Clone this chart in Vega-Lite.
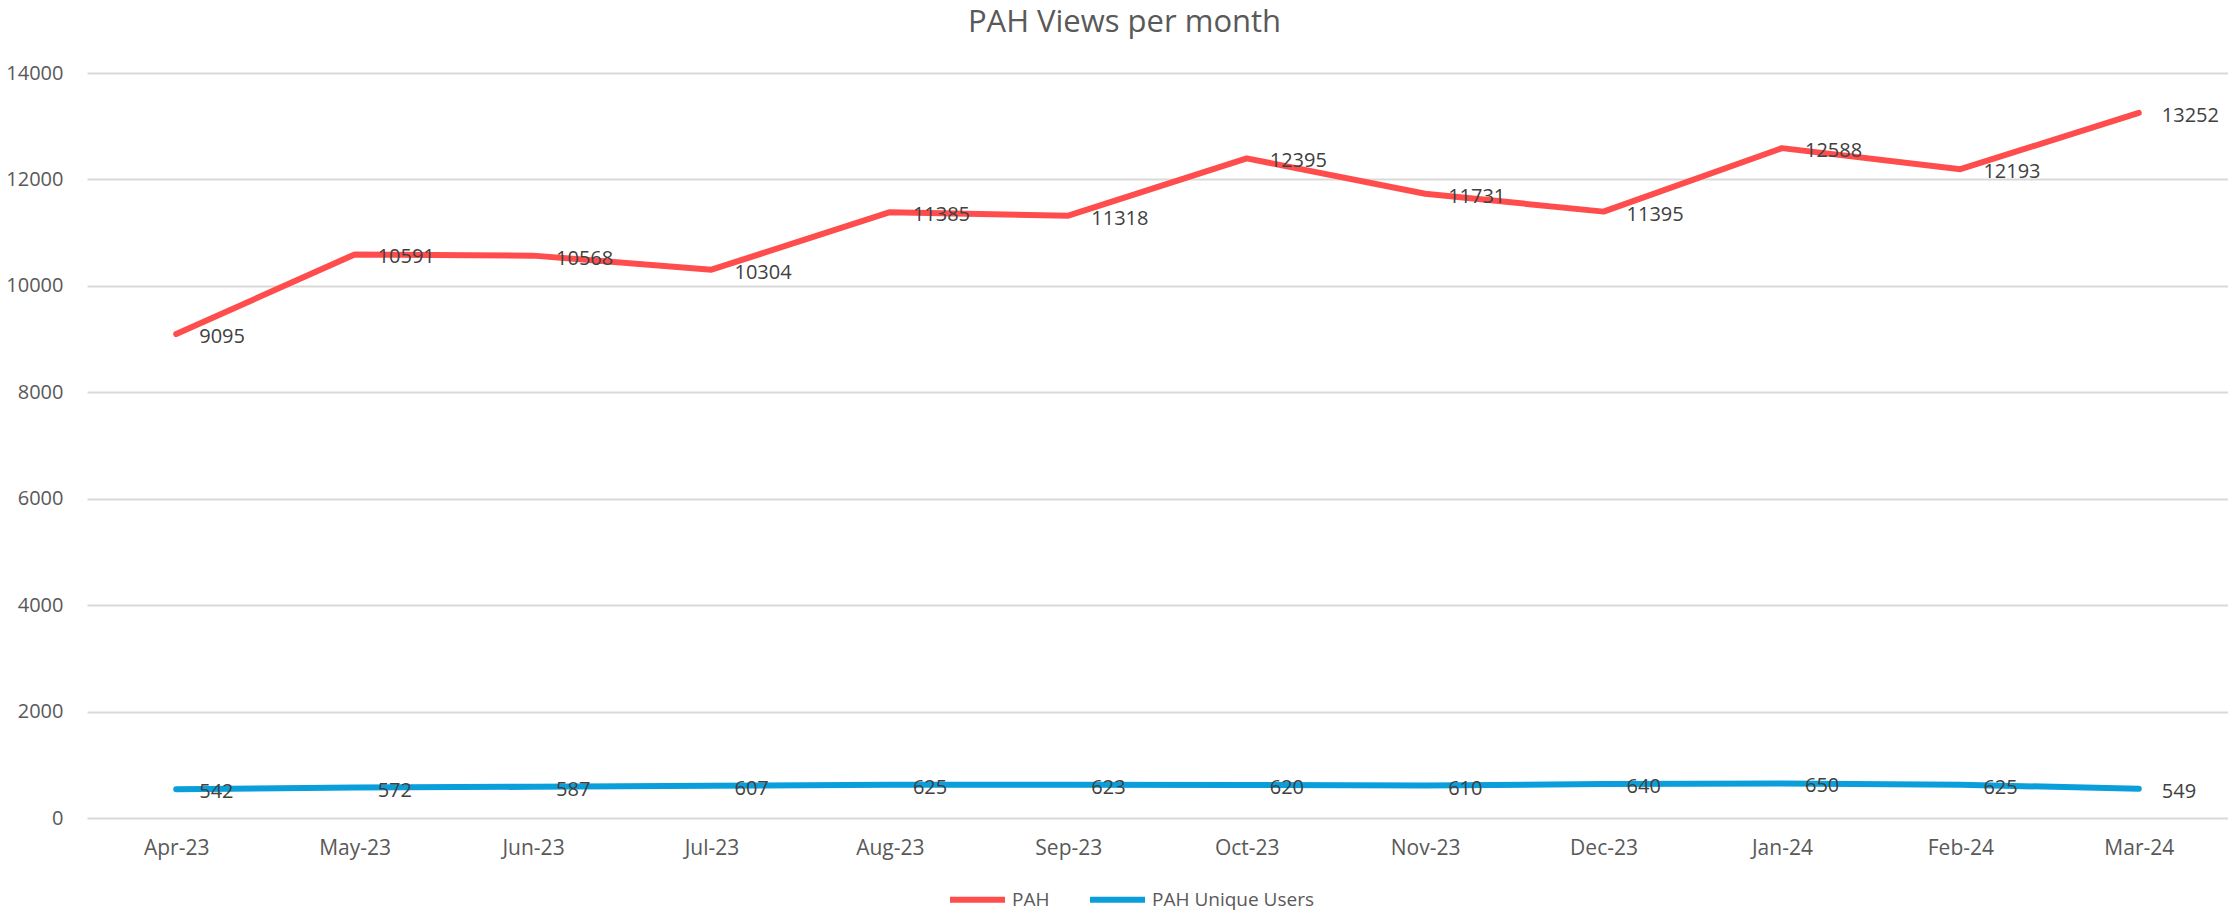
{
  "$schema": "https://vega.github.io/schema/vega-lite/v6.json",
  "autosize": "none",
  "width": 2141,
  "height": 745,
  "padding": {"left": 87, "top": 73, "right": 0, "bottom": 100},
  "background": "white",
  "config": {
    "font": "Open Sans",
    "view": {"stroke": null}
  },
  "title": {
    "text": "PAH Views per month",
    "fontSize": 31,
    "fontWeight": "normal",
    "color": "#595959",
    "font": "Open Sans",
    "anchor": "middle",
    "frame": "group",
    "baseline": "alphabetic",
    "dx": -33,
    "offset": 0
  },
  "data": {
    "values": [
      {"month": "Apr-23", "series": "PAH", "value": 9095},
      {"month": "May-23", "series": "PAH", "value": 10591},
      {"month": "Jun-23", "series": "PAH", "value": 10568},
      {"month": "Jul-23", "series": "PAH", "value": 10304},
      {"month": "Aug-23", "series": "PAH", "value": 11385},
      {"month": "Sep-23", "series": "PAH", "value": 11318},
      {"month": "Oct-23", "series": "PAH", "value": 12395},
      {"month": "Nov-23", "series": "PAH", "value": 11731},
      {"month": "Dec-23", "series": "PAH", "value": 11395},
      {"month": "Jan-24", "series": "PAH", "value": 12588},
      {"month": "Feb-24", "series": "PAH", "value": 12193},
      {"month": "Mar-24", "series": "PAH", "value": 13252},
      {"month": "Apr-23", "series": "PAH Unique Users", "value": 542},
      {"month": "May-23", "series": "PAH Unique Users", "value": 572},
      {"month": "Jun-23", "series": "PAH Unique Users", "value": 587},
      {"month": "Jul-23", "series": "PAH Unique Users", "value": 607},
      {"month": "Aug-23", "series": "PAH Unique Users", "value": 625},
      {"month": "Sep-23", "series": "PAH Unique Users", "value": 623},
      {"month": "Oct-23", "series": "PAH Unique Users", "value": 620},
      {"month": "Nov-23", "series": "PAH Unique Users", "value": 610},
      {"month": "Dec-23", "series": "PAH Unique Users", "value": 640},
      {"month": "Jan-24", "series": "PAH Unique Users", "value": 650},
      {"month": "Feb-24", "series": "PAH Unique Users", "value": 625},
      {"month": "Mar-24", "series": "PAH Unique Users", "value": 549}
    ]
  },
  "encoding": {
    "x": {
      "field": "month",
      "type": "ordinal",
      "sort": null,
      "scale": {"type": "point", "padding": 0.5},
      "axis": {
        "title": null,
        "labelAngle": 0,
        "labelFontSize": 21,
        "labelColor": "#595959",
        "labelPadding": 19,
        "ticks": false,
        "domain": false,
        "grid": false
      }
    },
    "y": {
      "field": "value",
      "type": "quantitative",
      "scale": {"domain": [0, 14000]},
      "axis": {
        "title": null,
        "values": [0, 2000, 4000, 6000, 8000, 10000, 12000, 14000],
        "format": "d",
        "labelFontSize": 20,
        "labelColor": "#595959",
        "labelPadding": 24,
        "ticks": false,
        "domain": false,
        "gridColor": "#D9D9D9",
        "gridWidth": 2
      }
    },
    "color": {
      "field": "series",
      "type": "nominal",
      "scale": {"domain": ["PAH", "PAH Unique Users"], "range": ["#FF4D4D", "#0A9FDA"]},
      "legend": {
        "title": null,
        "orient": "none",
        "direction": "horizontal",
        "legendX": 860,
        "legendY": 796,
        "symbolType": "stroke",
        "symbolSize": 3025,
        "symbolStrokeWidth": 6,
        "labelFontSize": 19,
        "labelColor": "#595959",
        "labelOffset": 4,
        "labelLimit": 0,
        "columnPadding": 28
      }
    }
  },
  "layer": [
    {
      "mark": {"type": "line", "strokeWidth": 6, "strokeCap": "round", "strokeJoin": "round"}
    },
    {
      "mark": {"type": "text", "align": "left", "baseline": "middle", "dx": 23, "dy": 3, "fontSize": 20, "color": "#404040"},
      "encoding": {
        "text": {"field": "value", "type": "quantitative", "format": "d"},
        "color": {"value": "#404040"}
      }
    }
  ]
}
